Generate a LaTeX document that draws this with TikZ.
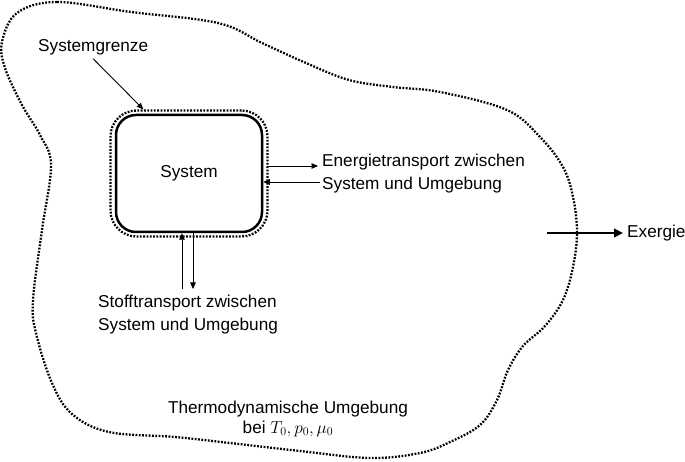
\documentclass[tikz,border=0pt]{standalone}
\usepackage{fontspec}
\setmainfont{Liberation Sans}
\usetikzlibrary{arrows.meta}
\begin{document}
\begin{tikzpicture}[x=1pt,y=-1pt,
  lbl/.style={font=\fontsize{17.2}{21}\selectfont, inner sep=0pt},
  dotline/.style={line width=2.3pt, line cap=butt, dash pattern=on 1.8pt off 1.5pt},
  thinarrow/.style={line width=0.9pt, -{Triangle[length=6.5pt,width=5.5pt]}},
  thickarrow/.style={line width=2.2pt, -{Triangle[length=9pt,width=8.5pt]}}]
\useasboundingbox (0,0) rectangle (685,462);
% outer environment boundary
\draw[dotline] plot[smooth cycle, tension=0.6] coordinates {
 (17,13) (57,2) (131,12) (218,23) (262,43) (306,63) (349,80) (393,87) (440,92)
 (507,110) (540,137) (563,167) (573,197) (577,232) (573,267) (563,300) (545,326)
 (523,346) (508,370) (497,400) (480,425) (450,442) (420,453) (370,458) (300,451)
 (230,443) (175,437) (109,432) (72,414) (52,383) (36,333) (33,300) (42,230)
 (51,165) (40,135) (22,105) (5,68) (2,42)};
% system
\node[draw, line width=2.5pt, rounded corners=20pt, minimum width=146pt,
      minimum height=117pt, inner sep=0pt, font=\fontsize{17.2}{21}\selectfont] (sys) at (189,173.5) {System};
\node[draw, dotline, rounded corners=26pt, minimum width=157pt, minimum height=126pt] (bd) at (189,173.5) {};
% labels
\node[lbl, anchor=base west] (sg) at (38,52) {Systemgrenze};
\node[lbl, anchor=base west] (en1) at (322,167) {Energietransport zwischen};
\node[lbl, anchor=base west] (en2) at (322,190) {System und Umgebung};
\node[lbl, anchor=base west] (st1) at (98,307) {Stofftransport zwischen};
\node[lbl, anchor=base west] (st2) at (98,330) {System und Umgebung};
\node[lbl, anchor=base] (th1) at (288,413) {Thermodynamische Umgebung};
\node[lbl, anchor=base] (th2) at (288,433) {bei $T_0, p_0, \mu_0$};
\node[lbl, inner xsep=4pt, anchor=base west] (ex) at (623,238) {Exergie};
% connectors
\draw[thinarrow] ([yshift=-3pt]sg.south) -- ([xshift=34pt]bd.north west);
\coordinate (e1) at (318,166);
\coordinate (e2) at (320,182);
\draw[thinarrow] (bd.east |- e1) -- (e1);
\draw[thinarrow] (e2) -- (sys.east |- e2);
\coordinate (s1) at (182,289);
\coordinate (s2) at (193,289);
\draw[thinarrow] (s1) -- (sys.south -| s1);
\draw[thinarrow] (sys.south -| s2) -- (s2);
\coordinate (exs) at (547,233);
\draw[thickarrow] (exs) -- (ex.west |- exs);
\end{tikzpicture}
\end{document}
